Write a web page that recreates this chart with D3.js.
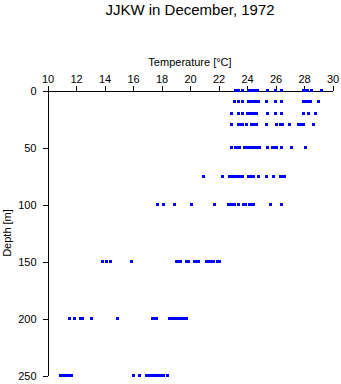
<!DOCTYPE html>
<html>
<head>
<meta charset="utf-8">
<script src="https://cdn.jsdelivr.net/npm/d3@7/dist/d3.min.js"></script>
<style>
  html, body { margin: 0; padding: 0; background: #fff; }
  svg { display: block; font-family: "Liberation Sans", Arial, sans-serif; }
  .axis path, .axis line { stroke: #000; stroke-width: 1; shape-rendering: crispEdges; }
  .axis text { font-size: 11px; fill: #000; }
</style>
</head>
<body>
<svg id="chart" width="341" height="384"></svg>
<script>
// Observation depths [m]
const depths = [0, 10, 20, 30, 50, 75, 100, 150, 200, 250];

// Temperatures [°C] observed at each depth
const temp0 = [23.16, 23.26, 23.37, 23.65, 24.07, 24.21, 24.35, 24.49, 24.67, 25.37, 25.96, 26.39, 27.93, 28.04, 28.18, 28.46, 29.16];
const temp10 = [23.07, 23.39, 23.67, 24.07, 24.25, 24.42, 24.6, 24.74, 25.35, 25.99, 26.37, 27.93, 28.1, 28.25, 28.42, 28.96];
const temp20 = [22.9, 23.39, 23.66, 23.99, 24.2, 24.4, 24.6, 25.37, 25.99, 26.37, 27.93, 28.26, 28.77];
const temp30 = [22.91, 23.37, 23.51, 23.65, 23.96, 24.28, 24.42, 24.6, 25.35, 26.0, 26.32, 26.46, 26.97, 27.58, 27.72, 27.96, 28.6];
const temp50 = [22.91, 23.16, 23.3, 23.44, 23.82, 23.96, 24.14, 24.28, 24.42, 24.56, 24.7, 24.84, 25.37, 25.75, 25.89, 26.04, 26.39, 27.07, 28.09];
const temp75 = [20.88, 22.27, 22.74, 22.88, 23.02, 23.16, 23.3, 23.44, 23.67, 24.07, 24.21, 24.39, 24.79, 25.35, 25.85, 26.32, 26.46, 26.6];
const temp100 = [17.7, 18.08, 18.89, 20.09, 21.67, 22.67, 22.81, 22.95, 23.12, 23.39, 23.75, 23.89, 24.14, 24.28, 24.42, 25.58, 26.36];
const temp150 = [13.79, 14.08, 14.42, 15.89, 19.05, 19.19, 19.3, 19.75, 19.89, 20.28, 20.42, 20.53, 21.1, 21.33, 21.47, 21.61, 21.89, 22.07];
const temp200 = [11.49, 11.89, 12.28, 12.42, 13.07, 14.9, 17.33, 17.47, 17.58, 18.56, 18.7, 18.91, 19.05, 19.19, 19.33, 19.47, 19.61, 19.75];
const temp250 = [10.88, 11.02, 11.16, 11.37, 11.51, 11.65, 15.99, 16.4, 16.88, 17.02, 17.16, 17.3, 17.44, 17.58, 17.72, 17.86, 18.09, 18.42];

const tempTicks = [10, 12, 14, 16, 18, 20, 22, 24, 26, 28, 30];
const depthTicks = [0, 50, 100, 150, 200, 250];

const profiles = [temp0, temp10, temp20, temp30, temp50, temp75, temp100, temp150, temp200, temp250];
const points = [];
profiles.forEach((temps, i) => temps.forEach(t => points.push({ depth: depths[i], temp: t })));

const svg = d3.select("#chart");

const x = d3.scaleLinear().domain([10, 30]).range([47.5, 332.5]);
const y = d3.scaleLinear().domain([0, 250]).range([90.5, 375.5]);

// Title
svg.append("text")
  .attr("x", 190).attr("y", 14.5)
  .attr("text-anchor", "middle")
  .style("font-size", "15px")
  .text("JJKW in December, 1972");

// Temperature axis along the top
svg.append("g")
  .attr("class", "axis")
  .attr("transform", `translate(0,${y(0)})`)
  .call(d3.axisTop(x).tickValues(tempTicks).tickSize(5).tickSizeOuter(0).tickPadding(3).tickFormat(d3.format("d")));

svg.append("text")
  .attr("x", 190).attr("y", 66)
  .attr("text-anchor", "middle")
  .style("font-size", "11px")
  .text("Temperature [°C]");

// Depth axis on the left
svg.append("g")
  .attr("class", "axis")
  .attr("transform", `translate(${x(10)},0)`)
  .call(d3.axisLeft(y).tickValues(depthTicks).tickSize(5).tickSizeOuter(0).tickPadding(6).tickFormat(d3.format("d")));

svg.append("text")
  .attr("transform", `translate(11,${(y(0) + y(250)) / 2}) rotate(-90)`)
  .attr("text-anchor", "middle")
  .style("font-size", "11px")
  .text("Depth [m]");

// Observations
svg.append("g")
  .selectAll("rect")
  .data(points)
  .join("rect")
  .attr("x", d => Math.round(x(d.temp)) - 1.5)
  .attr("y", d => Math.floor(y(d.depth)) - 1)
  .attr("width", 3)
  .attr("height", 3)
  .attr("fill", "#0000ff")
  .attr("shape-rendering", "crispEdges");
</script>
</body>
</html>
